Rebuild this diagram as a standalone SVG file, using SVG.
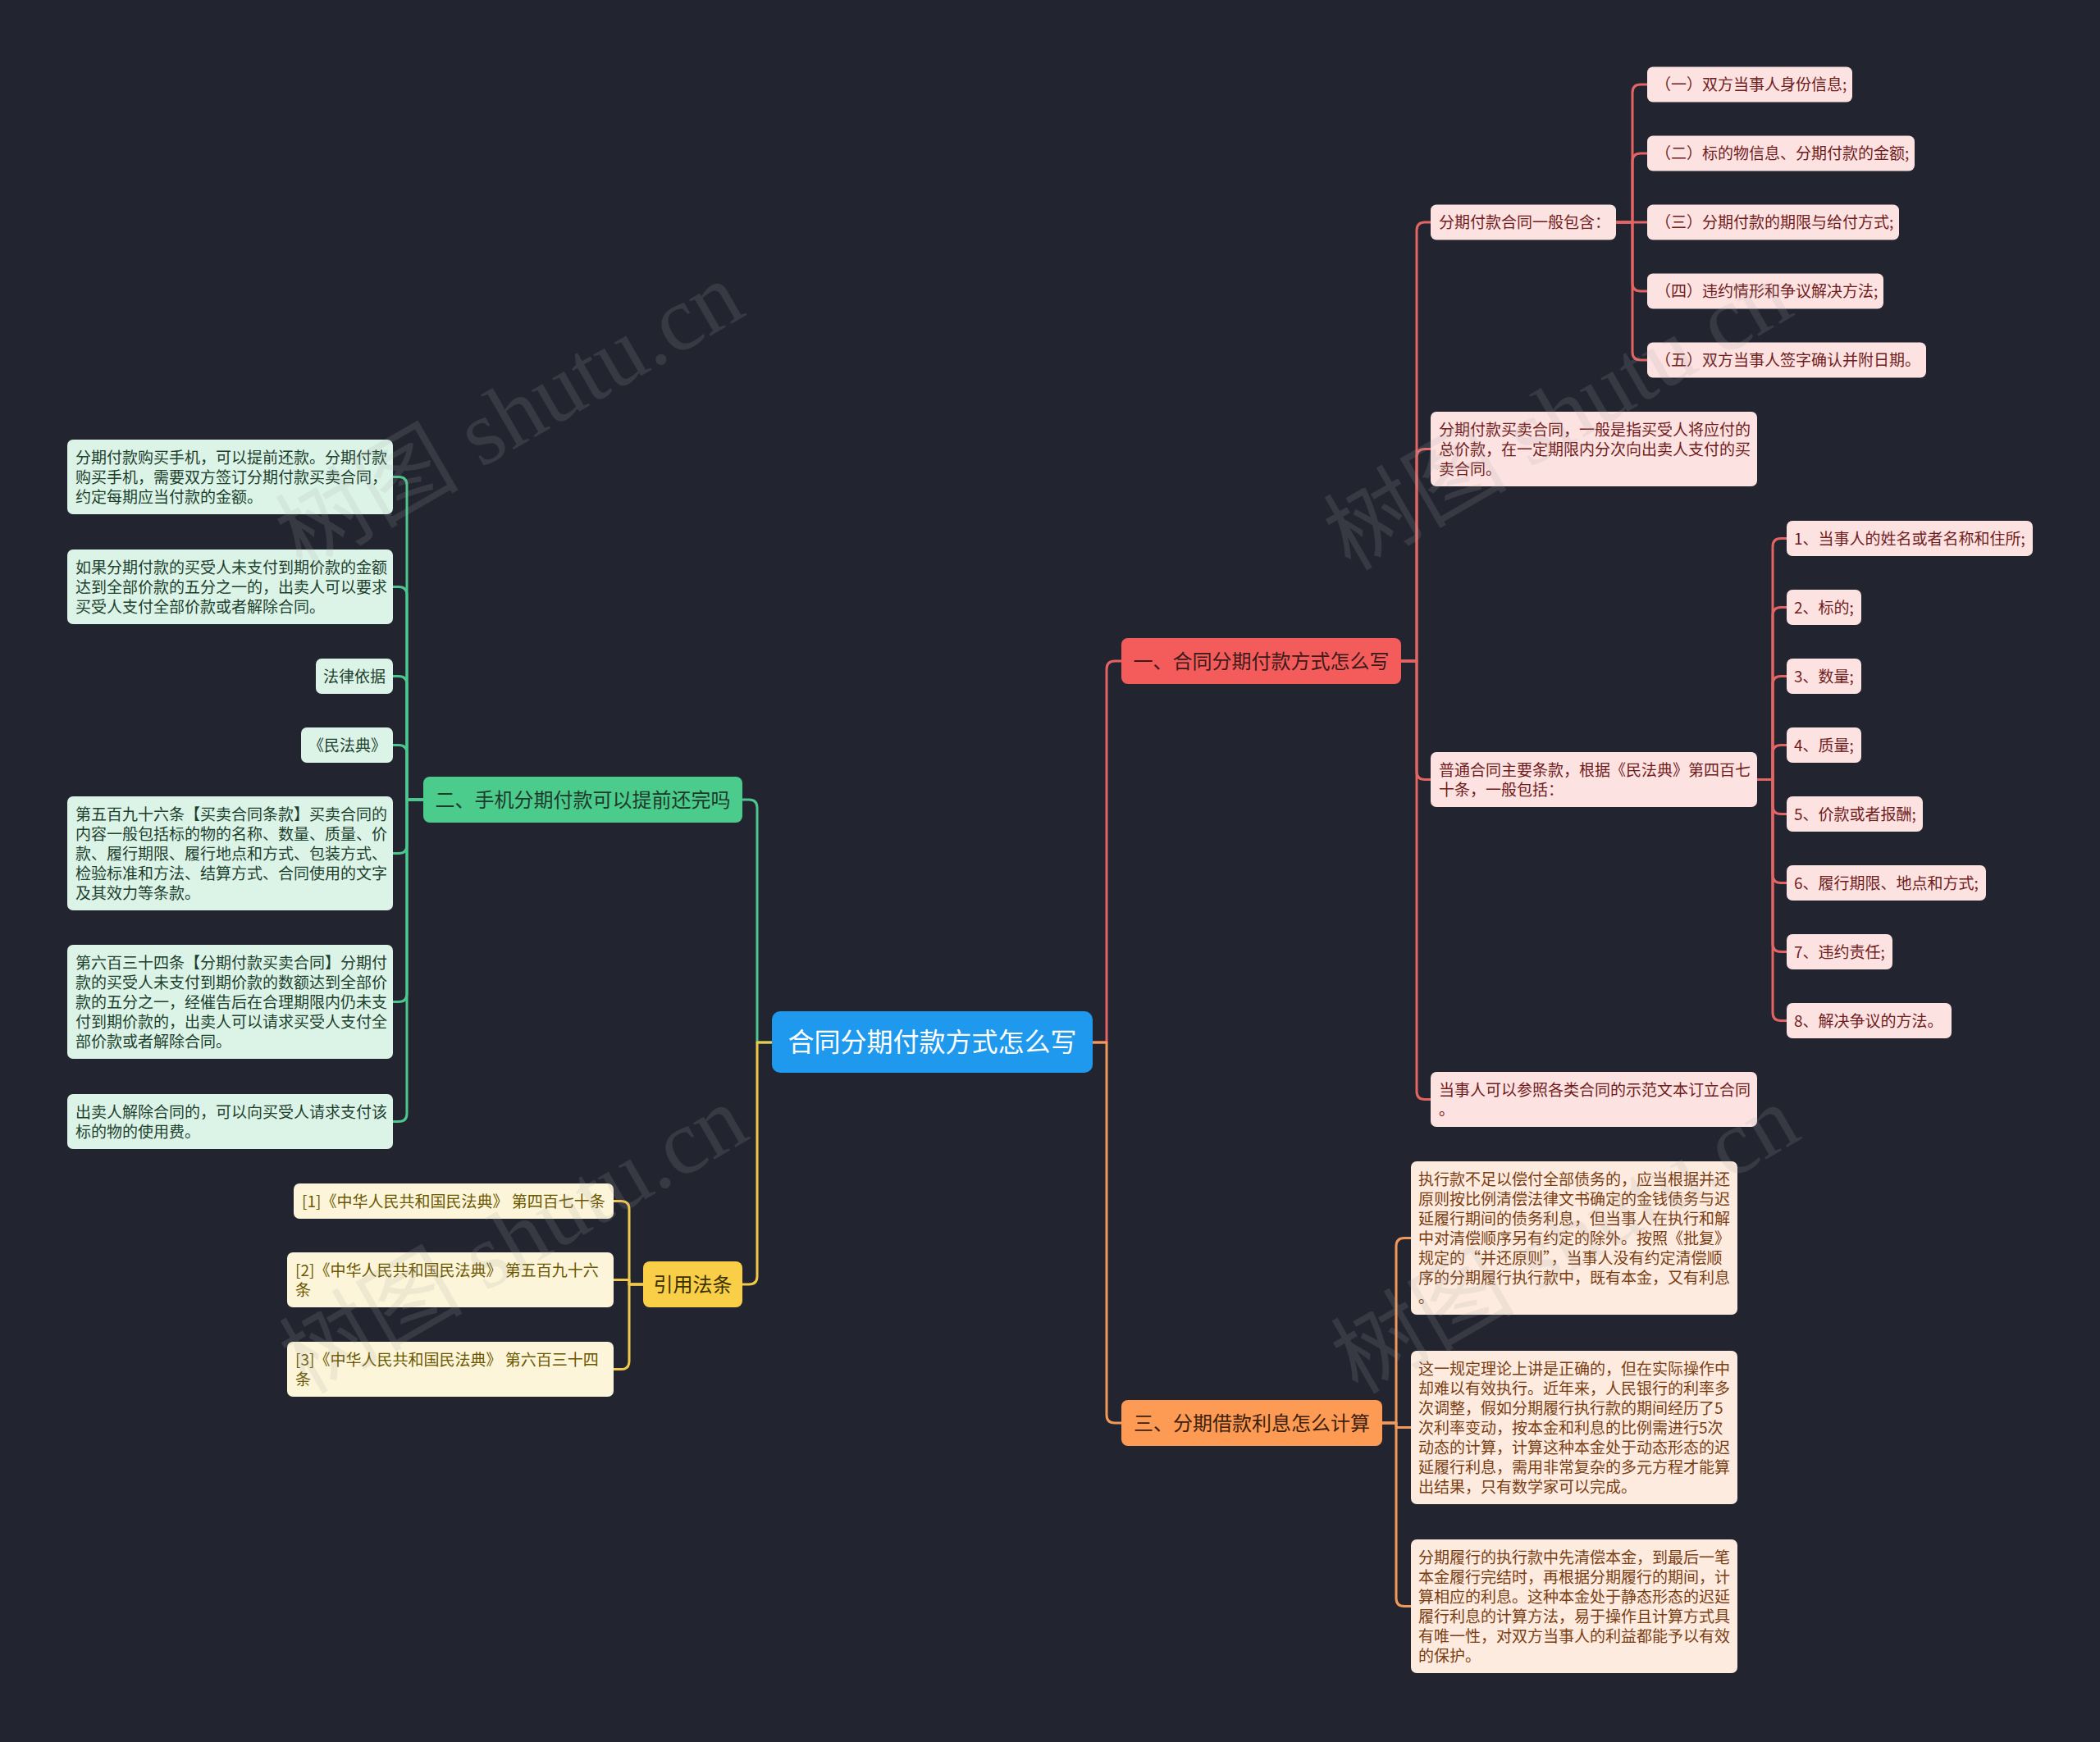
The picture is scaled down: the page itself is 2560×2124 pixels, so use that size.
<svg xmlns="http://www.w3.org/2000/svg" width="2560" height="2124" viewBox="0 0 2560 2124">
<style>
text{font-family:'Noto Sans CJK SC','Noto Sans',sans-serif;}
.lf{font-size:19px;}
.br{font-size:24px;text-anchor:middle;}
.c{fill:none;stroke-width:3;stroke-linejoin:round;stroke-linecap:round;}
.cr{stroke:#e46464;}.cg{stroke:#4dc68f;}.cy{stroke:#f1c94a;}.co{stroke:#f2995a;}
.pr rect{fill:#fde2e2;}.pr text{fill:#701c1c;}
.pg rect{fill:#dcf4e7;}.pg text{fill:#1d3f2d;}
.po rect{fill:#fdebdf;}.po text{fill:#7a3d12;}
.py rect{fill:#fdf5da;}.py text{fill:#6a5700;}
.wm{font-family:'Liberation Serif','Noto Sans CJK SC',serif;font-size:112px;fill:#a8a8a8;opacity:0.16;text-anchor:middle;}
</style>
<rect width="2560" height="2124" fill="#22252f"/>

<g id="connectors">
<path class="c cr" d="M1332,1271 H1349 V816 Q1349,806 1359,806 H1367"/>
<path class="c co" d="M1332,1271 H1349 V1725 Q1349,1735 1359,1735 H1367"/>
<path class="c cg" d="M941,1271 H923 V985 Q923,975 913,975 H905"/>
<path class="c cy" d="M941,1271 H923 V1556 Q923,1566 913,1566 H905"/>

<path class="c cr" d="M1708,806 H1727 V281 Q1727,271 1737,271 H1744"/>
<path class="c cr" d="M1708,806 H1727 V557.5 Q1727,547.5 1737,547.5 H1744"/>
<path class="c cr" d="M1708,806 H1727 V940.5 Q1727,950.5 1737,950.5 H1744"/>
<path class="c cr" d="M1708,806 H1727 V1330.5 Q1727,1340.5 1737,1340.5 H1744"/>

<path class="c cr" d="M1970,271 H1990 V113 Q1990,103 2000,103 H2008"/>
<path class="c cr" d="M1970,271 H1990 V197 Q1990,187 2000,187 H2008"/>
<path class="c cr" d="M1970,271 H2008"/>
<path class="c cr" d="M1970,271 H1990 V345 Q1990,355 2000,355 H2008"/>
<path class="c cr" d="M1970,271 H1990 V429 Q1990,439 2000,439 H2008"/>

<path class="c cr" d="M2142,950.5 H2161 V666.5 Q2161,656.5 2171,656.5 H2178"/>
<path class="c cr" d="M2142,950.5 H2161 V750.5 Q2161,740.5 2171,740.5 H2178"/>
<path class="c cr" d="M2142,950.5 H2161 V834.5 Q2161,824.5 2171,824.5 H2178"/>
<path class="c cr" d="M2142,950.5 H2161 V918.5 Q2161,908.5 2171,908.5 H2178"/>
<path class="c cr" d="M2142,950.5 H2161 V982.5 Q2161,992.5 2171,992.5 H2178"/>
<path class="c cr" d="M2142,950.5 H2161 V1066.5 Q2161,1076.5 2171,1076.5 H2178"/>
<path class="c cr" d="M2142,950.5 H2161 V1150.5 Q2161,1160.5 2171,1160.5 H2178"/>
<path class="c cr" d="M2142,950.5 H2161 V1234.5 Q2161,1244.5 2171,1244.5 H2178"/>

<path class="c co" d="M1685,1735 H1702 V1519.5 Q1702,1509.5 1712,1509.5 H1720"/>
<path class="c co" d="M1685,1735 H1702 V1740.5 H1720"/>
<path class="c co" d="M1685,1735 H1702 V1948.5 Q1702,1958.5 1712,1958.5 H1720"/>

<path class="c cg" d="M516,975 H496 V591.5 Q496,581.5 486,581.5 H479"/>
<path class="c cg" d="M516,975 H496 V725.5 Q496,715.5 486,715.5 H479"/>
<path class="c cg" d="M516,975 H496 V834.5 Q496,824.5 486,824.5 H479"/>
<path class="c cg" d="M516,975 H496 V918.5 Q496,908.5 486,908.5 H479"/>
<path class="c cg" d="M516,975 H496 V1030.5 Q496,1040.5 486,1040.5 H479"/>
<path class="c cg" d="M516,975 H496 V1211.5 Q496,1221.5 486,1221.5 H479"/>
<path class="c cg" d="M516,975 H496 V1357.5 Q496,1367.5 486,1367.5 H479"/>

<path class="c cy" d="M784,1566 H767 V1474.5 Q767,1464.5 757,1464.5 H748"/>
<path class="c cy" d="M784,1566 H767 V1560.5 H748"/>
<path class="c cy" d="M784,1566 H767 V1659.5 Q767,1669.5 757,1669.5 H748"/>
</g>

<g id="root">
<rect x="941" y="1233" width="391" height="75" rx="10" fill="#1f99ee"/>
<text x="1136.5" y="1282" font-size="32" fill="#ffffff" text-anchor="middle">合同分期付款方式怎么写</text>
</g>

<g id="b1">
<rect x="1367" y="778" width="341" height="56" rx="8" fill="#f45c5c"/>
<text class="br" x="1537.5" y="814.5" fill="#3d1a1a">一、合同分期付款方式怎么写</text>
</g>
<g id="b2">
<rect x="516" y="947" width="389" height="56" rx="8" fill="#4ccc8c"/>
<text class="br" x="710.5" y="983.5" fill="#1d3a2b">二、手机分期付款可以提前还完吗</text>
</g>
<g id="b3">
<rect x="1367" y="1707" width="318" height="56" rx="8" fill="#fd9b54"/>
<text class="br" x="1526" y="1743.5" fill="#3d1f0c">三、分期借款利息怎么计算</text>
</g>
<g id="b4">
<rect x="784" y="1538" width="121" height="56" rx="8" fill="#f9cf48"/>
<text class="br" x="844.5" y="1574.5" fill="#3b3000">引用法条</text>
</g>

<g id="r1" class="pr"><rect x="1744" y="249.5" width="226" height="43" rx="7"/><text class="lf" x="1754" y="278">分期付款合同一般包含：</text></g>
<g id="r1a" class="pr"><rect x="2008" y="81.5" width="250" height="43" rx="7"/><text class="lf" x="2018" y="110">（一）双方当事人身份信息;</text></g>
<g id="r1b" class="pr"><rect x="2008" y="165.5" width="326" height="43" rx="7"/><text class="lf" x="2018" y="194">（二）标的物信息、分期付款的金额;</text></g>
<g id="r1c" class="pr"><rect x="2008" y="249.5" width="307" height="43" rx="7"/><text class="lf" x="2018" y="278">（三）分期付款的期限与给付方式;</text></g>
<g id="r1d" class="pr"><rect x="2008" y="333.5" width="288" height="43" rx="7"/><text class="lf" x="2018" y="362">（四）违约情形和争议解决方法;</text></g>
<g id="r1e" class="pr"><rect x="2008" y="417.5" width="340" height="43" rx="7"/><text class="lf" x="2018" y="446">（五）双方当事人签字确认并附日期。</text></g>

<g id="r2" class="pr"><rect x="1744" y="502" width="398" height="91" rx="7"/>
<text class="lf"><tspan x="1754" y="530.5">分期付款买卖合同，一般是指买受人将应付的</tspan><tspan x="1754" y="554.5">总价款，在一定期限内分次向出卖人支付的买</tspan><tspan x="1754" y="578.5">卖合同。</tspan></text></g>

<g id="r3" class="pr"><rect x="1744" y="917" width="398" height="67" rx="7"/>
<text class="lf"><tspan x="1754" y="945.5">普通合同主要条款，根据《民法典》第四百七</tspan><tspan x="1754" y="969.5">十条，一般包括：</tspan></text></g>

<g id="r3a" class="pr"><rect x="2178" y="635" width="300" height="43" rx="7"/><text class="lf" x="2187" y="663.5">1、当事人的姓名或者名称和住所;</text></g>
<g id="r3b" class="pr"><rect x="2178" y="719" width="91" height="43" rx="7"/><text class="lf" x="2187" y="747.5">2、标的;</text></g>
<g id="r3c" class="pr"><rect x="2178" y="803" width="91" height="43" rx="7"/><text class="lf" x="2187" y="831.5">3、数量;</text></g>
<g id="r3d" class="pr"><rect x="2178" y="887" width="91" height="43" rx="7"/><text class="lf" x="2187" y="915.5">4、质量;</text></g>
<g id="r3e" class="pr"><rect x="2178" y="971" width="166" height="43" rx="7"/><text class="lf" x="2187" y="999.5">5、价款或者报酬;</text></g>
<g id="r3f" class="pr"><rect x="2178" y="1055" width="243" height="43" rx="7"/><text class="lf" x="2187" y="1083.5">6、履行期限、地点和方式;</text></g>
<g id="r3g" class="pr"><rect x="2178" y="1139" width="129" height="43" rx="7"/><text class="lf" x="2187" y="1167.5">7、违约责任;</text></g>
<g id="r3h" class="pr"><rect x="2178" y="1223" width="201" height="43" rx="7"/><text class="lf" x="2187" y="1251.5">8、解决争议的方法。</text></g>

<g id="r4" class="pr"><rect x="1744" y="1307" width="398" height="67" rx="7"/>
<text class="lf"><tspan x="1754" y="1335.5">当事人可以参照各类合同的示范文本订立合同</tspan><tspan x="1754" y="1359.5">。</tspan></text></g>

<g id="o1" class="po"><rect x="1720" y="1416" width="398" height="187" rx="7"/>
<text class="lf"><tspan x="1729" y="1444.5">执行款不足以偿付全部债务的，应当根据并还</tspan><tspan x="1729" y="1468.5">原则按比例清偿法律文书确定的金钱债务与迟</tspan><tspan x="1729" y="1492.5">延履行期间的债务利息，但当事人在执行和解</tspan><tspan x="1729" y="1516.5">中对清偿顺序另有约定的除外。按照《批复》</tspan><tspan x="1729" y="1540.5">规定的“并还原则”，当事人没有约定清偿顺</tspan><tspan x="1729" y="1564.5">序的分期履行执行款中，既有本金，又有利息</tspan><tspan x="1729" y="1588.5">。</tspan></text></g>

<g id="o2" class="po"><rect x="1720" y="1647" width="398" height="187" rx="7"/>
<text class="lf"><tspan x="1729" y="1675.5">这一规定理论上讲是正确的，但在实际操作中</tspan><tspan x="1729" y="1699.5">却难以有效执行。近年来，人民银行的利率多</tspan><tspan x="1729" y="1723.5">次调整，假如分期履行执行款的期间经历了5</tspan><tspan x="1729" y="1747.5">次利率变动，按本金和利息的比例需进行5次</tspan><tspan x="1729" y="1771.5">动态的计算，计算这种本金处于动态形态的迟</tspan><tspan x="1729" y="1795.5">延履行利息，需用非常复杂的多元方程才能算</tspan><tspan x="1729" y="1819.5">出结果，只有数学家可以完成。</tspan></text></g>

<g id="o3" class="po"><rect x="1720" y="1877" width="398" height="163" rx="7"/>
<text class="lf"><tspan x="1729" y="1905.5">分期履行的执行款中先清偿本金，到最后一笔</tspan><tspan x="1729" y="1929.5">本金履行完结时，再根据分期履行的期间，计</tspan><tspan x="1729" y="1953.5">算相应的利息。这种本金处于静态形态的迟延</tspan><tspan x="1729" y="1977.5">履行利息的计算方法，易于操作且计算方式具</tspan><tspan x="1729" y="2001.5">有唯一性，对双方当事人的利益都能予以有效</tspan><tspan x="1729" y="2025.5">的保护。</tspan></text></g>

<g id="gA" class="pg"><rect x="82" y="536" width="397" height="91" rx="7"/>
<text class="lf"><tspan x="92" y="564.5">分期付款购买手机，可以提前还款。分期付款</tspan><tspan x="92" y="588.5">购买手机，需要双方签订分期付款买卖合同，</tspan><tspan x="92" y="612.5">约定每期应当付款的金额。</tspan></text></g>

<g id="gB" class="pg"><rect x="82" y="670" width="397" height="91" rx="7"/>
<text class="lf"><tspan x="92" y="698.5">如果分期付款的买受人未支付到期价款的金额</tspan><tspan x="92" y="722.5">达到全部价款的五分之一的，出卖人可以要求</tspan><tspan x="92" y="746.5">买受人支付全部价款或者解除合同。</tspan></text></g>

<g id="gL" class="pg"><rect x="385" y="803" width="94" height="43" rx="7"/><text class="lf" x="394" y="831.5">法律依据</text></g>
<g id="gM" class="pg"><rect x="367" y="887" width="112" height="43" rx="7"/><text class="lf" x="376" y="915.5">《民法典》</text></g>

<g id="gC" class="pg"><rect x="82" y="971" width="397" height="139" rx="7"/>
<text class="lf"><tspan x="92" y="999.5">第五百九十六条【买卖合同条款】买卖合同的</tspan><tspan x="92" y="1023.5">内容一般包括标的物的名称、数量、质量、价</tspan><tspan x="92" y="1047.5">款、履行期限、履行地点和方式、包装方式、</tspan><tspan x="92" y="1071.5">检验标准和方法、结算方式、合同使用的文字</tspan><tspan x="92" y="1095.5">及其效力等条款。</tspan></text></g>

<g id="gD" class="pg"><rect x="82" y="1152" width="397" height="139" rx="7"/>
<text class="lf"><tspan x="92" y="1180.5">第六百三十四条【分期付款买卖合同】分期付</tspan><tspan x="92" y="1204.5">款的买受人未支付到期价款的数额达到全部价</tspan><tspan x="92" y="1228.5">款的五分之一，经催告后在合理期限内仍未支</tspan><tspan x="92" y="1252.5">付到期价款的，出卖人可以请求买受人支付全</tspan><tspan x="92" y="1276.5">部价款或者解除合同。</tspan></text></g>

<g id="gE" class="pg"><rect x="82" y="1334" width="397" height="67" rx="7"/>
<text class="lf"><tspan x="92" y="1362.5">出卖人解除合同的，可以向买受人请求支付该</tspan><tspan x="92" y="1386.5">标的物的使用费。</tspan></text></g>

<g id="y1" class="py"><rect x="358" y="1443" width="390" height="43" rx="7"/><text class="lf" x="368" y="1471.5">[1]《中华人民共和国民法典》 第四百七十条</text></g>
<g id="y2" class="py"><rect x="350" y="1527" width="398" height="67" rx="7"/>
<text class="lf"><tspan x="360" y="1555.5">[2]《中华人民共和国民法典》 第五百九十六</tspan><tspan x="360" y="1579.5">条</tspan></text></g>
<g id="y3" class="py"><rect x="350" y="1636" width="398" height="67" rx="7"/>
<text class="lf"><tspan x="360" y="1664.5">[3]《中华人民共和国民法典》 第六百三十四</tspan><tspan x="360" y="1688.5">条</tspan></text></g>

<g id="watermark">
<text class="wm" transform="translate(640,540) rotate(-30)">树图 shutu.cn</text>
<text class="wm" transform="translate(1918,540) rotate(-30)">树图 shutu.cn</text>
<text class="wm" transform="translate(645,1544) rotate(-30)">树图 shutu.cn</text>
<text class="wm" transform="translate(1927,1544) rotate(-30)">树图 shutu.cn</text>
</g>
</svg>
